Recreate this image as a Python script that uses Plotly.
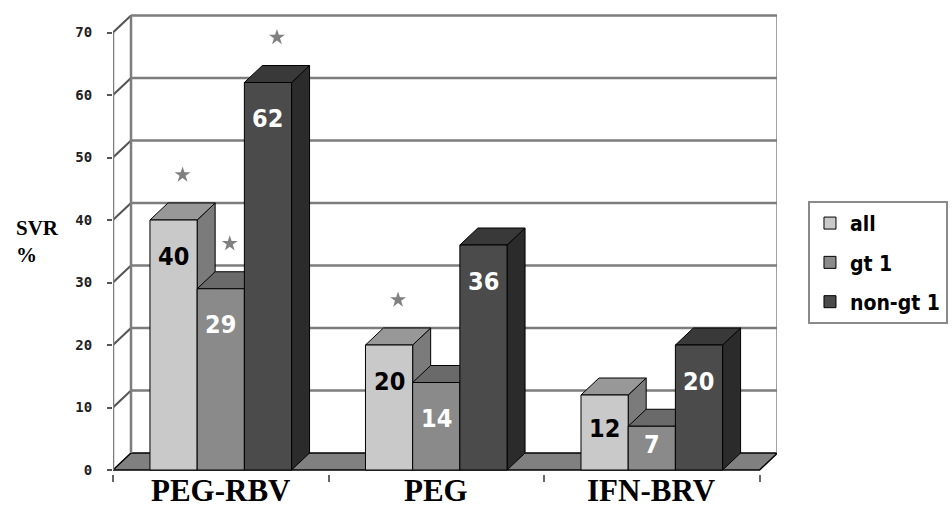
import plotly.graph_objects as go

# SVR (%) by regimen and patient subgroup
categories = ["PEG-RBV", "PEG", "IFN-BRV"]
series_names = ["all", "gt 1", "non-gt 1"]
svr_all = [40, 20, 12]
svr_gt1 = [29, 14, 7]
svr_nongt1 = [62, 36, 20]
# significance asterisks per subgroup, per regimen
sig_all = [True, True, False]
sig_gt1 = [True, False, False]
sig_nongt1 = [True, False, False]
y_ticks = [0, 10, 20, 30, 40, 50, 60, 70]

series_values = [svr_all, svr_gt1, svr_nongt1]
series_sig = [sig_all, sig_gt1, sig_nongt1]

front_colors = ["#c9c9c9", "#8a8a8a", "#4b4b4b"]
top_colors = ["#989898", "#6a6a6a", "#393939"]
side_colors = ["#7b7b7b", "#565656", "#2b2b2b"]
label_colors = ["black", "white", "white"]

BAR_W = 0.219      # bar width in category units
DX = 0.0835        # oblique depth offset, x units
DY = 2.72          # oblique depth offset, y units
Y_MIN, Y_MAX = -0.64, 73.92
X_MIN, X_MAX = -0.5, 2.581
PX_PER_Y = 466 / (Y_MAX - Y_MIN)

NARROW = "DejaVu Sans Condensed, Liberation Sans Narrow, Arial Narrow, sans-serif"
SERIF = "Liberation Serif, Times New Roman, serif"
WALL = "#7d7d7d"
fig = go.Figure()


def face(xs, ys, color):
    fig.add_trace(go.Scatter(
        x=xs + [xs[0]], y=ys + [ys[0]], mode="lines", fill="toself",
        fillcolor=color, line=dict(color="black", width=1),
        hoverinfo="skip", showlegend=False))


# bars drawn left to right so nearer faces cover the ones behind them
for i, cat in enumerate(categories):
    for j in range(len(series_names)):
        v = series_values[j][i]
        xl = i - 1.5 * BAR_W + j * BAR_W
        xr = xl + BAR_W
        face([xr, xr + DX, xr + DX, xr], [0, DY, v + DY, v], side_colors[j])
        face([xl, xr, xr + DX, xl + DX], [v, v, v + DY, v + DY], top_colors[j])
        face([xl, xr, xr, xl], [0, 0, v, v], front_colors[j])

# significance stars
star_x, star_y = [], []
for j in range(len(series_names)):
    for i in range(len(categories)):
        if series_sig[j][i]:
            xl = i - 1.5 * BAR_W + j * BAR_W
            star_x.append(xl + BAR_W / 2 + DX / 2)
            star_y.append(series_values[j][i] + DY + 4.5)
fig.add_trace(go.Scatter(
    x=star_x, y=star_y, mode="markers",
    marker=dict(symbol="star", size=12, color="#808080"),
    hoverinfo="skip", showlegend=False))

# legend entries
for j, name in enumerate(series_names):
    fig.add_trace(go.Bar(
        x=[None], y=[None], name=name, legendgroup=name,
        marker=dict(color=front_colors[j], line=dict(color="black", width=1))))

# value labels inside the bars
for j in range(len(series_names)):
    for i in range(len(categories)):
        v = series_values[j][i]
        xl = i - 1.5 * BAR_W + j * BAR_W
        shift = min(36, v * PX_PER_Y / 2 - 4)
        fig.add_annotation(
            x=xl + BAR_W / 2, y=v, xref="x", yref="y", text=str(v),
            showarrow=False, yanchor="middle", yshift=-shift,
            font=dict(family=NARROW, size=25, color=label_colors[j], weight="bold"))

# category labels
for i, cat in enumerate(categories):
    fig.add_annotation(
        x=i, y=0, xref="x", yref="paper", text=cat, showarrow=False,
        yanchor="middle", yshift=-16,
        font=dict(family=SERIF, size=31, color="black", weight="bold"))

fig.add_annotation(
    x=-0.149, y=0.50, xref="paper", yref="paper", text="SVR<br>%",
    showarrow=False, xanchor="left", align="left",
    font=dict(family=SERIF, size=21, color="black", weight="bold"))

shapes = []
# floor
shapes.append(dict(type="path", layer="below", xref="x", yref="y",
                   path=f"M {X_MIN},0 L 2.5,0 L {2.5 + DX},{DY} L {X_MIN + DX},{DY} Z",
                   fillcolor="#808080", line=dict(color="black", width=1.5)))
# back-wall gridlines and left-wall diagonals
for t in y_ticks[1:]:
    shapes.append(dict(type="line", layer="below", xref="x", yref="y",
                       x0=X_MIN + DX, x1=2.5 + DX, y0=t + DY, y1=t + DY,
                       line=dict(color=WALL, width=2.5)))
    shapes.append(dict(type="line", layer="below", xref="x", yref="y",
                       x0=X_MIN, x1=X_MIN + DX, y0=t, y1=t + DY,
                       line=dict(color="#555555", width=2)))
# wall edges
for x0, y0, x1, y1 in [
    (X_MIN, 0, X_MIN, y_ticks[-1]),
    (X_MIN + DX, DY, X_MIN + DX, y_ticks[-1] + DY),
    (2.5 + DX, DY, 2.5 + DX, y_ticks[-1] + DY),
]:
    shapes.append(dict(type="line", layer="below", xref="x", yref="y",
                       x0=x0, x1=x1, y0=y0, y1=y1,
                       line=dict(color=WALL, width=2.5)))

fig.update_layout(
    width=952, height=508,
    margin=dict(l=113, r=175, t=8, b=34, autoexpand=False),
    paper_bgcolor="white", plot_bgcolor="white",
    shapes=shapes,
    showlegend=True,
    legend=dict(x=1.2575, y=0.586, xanchor="right", yanchor="top",
                bordercolor="#8a8a8a", borderwidth=2, bgcolor="white",
                traceorder="grouped", tracegroupgap=9, itemwidth=30,
                font=dict(family=NARROW, size=21, color="black", weight="bold")),
    xaxis=dict(range=[X_MIN, X_MAX], showgrid=False, zeroline=False,
               showline=False, showticklabels=False,
               tickmode="array", tickvals=[-0.5, 0.5, 1.5, 2.5],
               ticks="outside", ticklen=7, tickcolor="#666666", tickwidth=1.5),
    yaxis=dict(range=[Y_MIN, Y_MAX], showgrid=False, zeroline=False,
               showline=False, tickmode="array", tickvals=y_ticks,
               ticks="outside", ticklen=5, tickcolor="#555555", tickwidth=1.5,
               ticklabelstandoff=12,
               tickfont=dict(family="DejaVu Sans Mono, monospace", size=14,
                             color="#222222", weight="bold")),
)

fig.write_html("out.html")
